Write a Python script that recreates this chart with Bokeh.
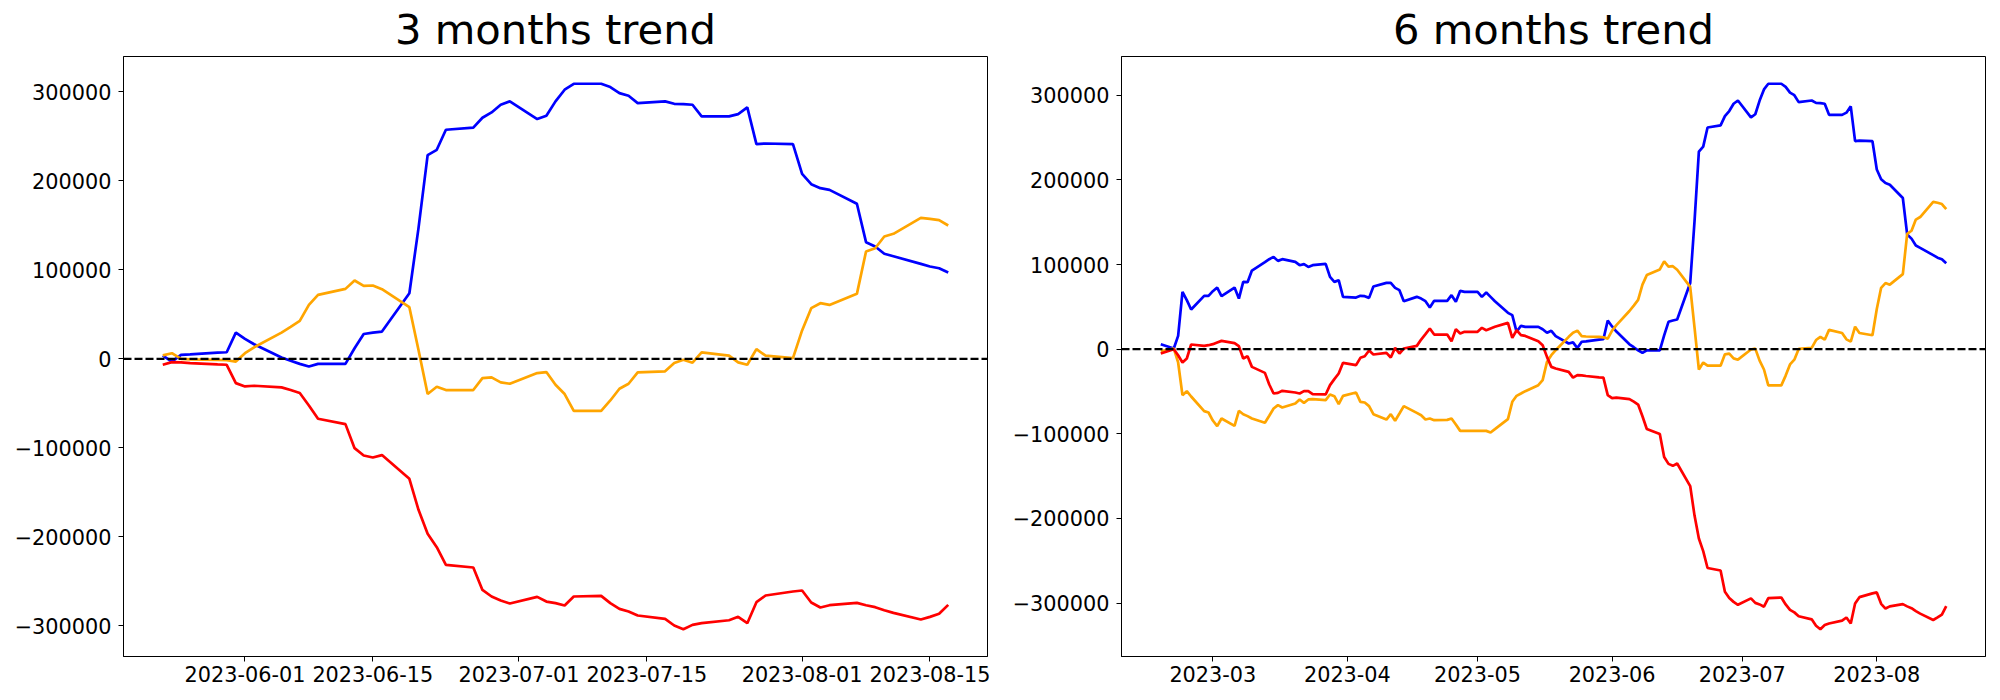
import pandas as pd
from bokeh.plotting import figure
from bokeh.models import (Range1d, FixedTicker, DatetimeTickFormatter, Span,
                          ColumnDataSource, BasicTickFormatter)
from bokeh.layouts import row
from bokeh.embed import file_html
from bokeh.resources import INLINE

FONT = "DejaVu Sans"

# ---------------- data: 3 months (business days 2023-05-23 .. 2023-08-17) ----------------
dates_3m = pd.bdate_range("2023-05-23", "2023-08-17")

blue_3m = [3700, -3000, 4500, 5000, 7000, 7500, 29600, 22500, 16500, 1500,
           -2000, -5600, -8600, -5600, -5600, 12000, 28000, 29600, 30700, 73800,
           147000, 229000, 235000, 257500, 260000, 271000, 277000, 285600, 289400, 269500,
           273200, 289400, 302500, 309200, 309200, 305500, 298700, 295700, 287500, 289400,
           286700, 286400, 285600, 272500, 272500, 275100, 282600, 241400, 242100, 241400,
           208000, 196400, 191900, 190000, 174300, 131200, 126300, 118100, 115400, 106800,
           103800, 101900, 97100]
orange_3m = [4000, 6400, 0, -500, -1000, -1500, -3000, 6400, 13000, 29600,
             36000, 42700, 60700, 72000, 78700, 88100, 82100, 82500, 78300, 58100,
             10000, -39500, -31300, -35000, -35000, -21600, -20800, -26400, -27900, -15900,
             -14800, -29000, -39500, -58300, -58300, -46700, -33500, -27900, -15200, -14000,
             -4700, -900, -4300, 7300, 3600, -3900, -6600, 11000, 3600, 900,
             32000, 57000, 62600, 60700, 73100, 120700, 124400, 137600, 140600, 158500,
             157400, 155900, 149900]
red_3m = [-6600, -3600, -3900, -4700, -6200, -6600, -27200, -30900, -30200, -32000,
          -35000, -38400, -52300, -67300, -73300, -100300, -108500, -110800, -108100, -134700,
          -169600, -196600, -211600, -231500, -234400, -259600, -267000, -271500, -274900, -267400,
          -272700, -274500, -277200, -267000, -266300, -274500, -280900, -283900, -288400, -292100,
          -299600, -303800, -298900, -297000, -293700, -289900, -297000, -273400, -265900, -261400,
          -260300, -273800, -279400, -276800, -274200, -276800, -279000, -282400, -285400, -292900,
          -289900, -286500, -276400]

# ---------------- data: 6 months (business days 2023-02-17 .. 2023-08-17) ----------------
dates_6m = pd.bdate_range("2023-02-17", "2023-08-17")

blue_6m = [5900, 800, 15700, 67700, 57900, 46900, 63000, 63000,
           68500, 72800, 62600, 72800, 59800, 79500, 79100, 92900, 102800, 106300,
           109000, 104300, 106300, 103100, 99200, 100400, 97200, 99200, 100800, 85400,
           79500, 81500, 61800,
           61000, 63000, 62600, 60600, 74000, 78300, 78300, 72400, 69700, 56700,
           61800, 59800, 56700, 49200, 57100, 57100, 63800, 55900, 68900, 67700,
           67700, 61800, 66900, 61800, 56700, 42900, 40200, 20500, 27600, 26400,
           26400, 23600, 19300, 21700, 15400, 6700,
           8000, 1300, 8800, 9300, 11300, 11800, 33900, 26800, 20800, 5800,
           2300, -1300, -4300, -1300, -1300, 16300, 32300, 33900, 35000, 78100,
           151300, 233300, 239300, 261800, 264300, 275300, 281300, 289900, 293700, 273800,
           277500, 293700, 306800, 313500, 313500, 309800, 303000, 300000, 291800, 293700,
           291000, 290700, 289900, 276800, 276800, 279400, 286900, 245700, 246400, 245700,
           212300, 200700, 196200, 194300, 178600, 135500, 130600, 122400, 119700, 111100,
           108100, 106200, 101400]
orange_6m = [-2400, 800, -15700, -54300, -49600, -55900, -73200, -74800,
             -84300, -90900, -81900, -90600, -72800, -76800, -79100, -81900, -87000, -78700,
             -70100, -66100, -68900, -64200, -59400, -63400, -59400, -59100, -60200, -53500,
             -55500, -65000, -55100,
             -51200, -62200, -63000, -67300, -76800, -83100, -76800, -84600, -76000, -67300,
             -75200, -78000, -83100, -81900, -83900, -83500, -81900, -89000, -96500, -96500,
             -96500, -96500, -96500, -98400, -94500, -82700, -62200, -55100, -52400, -49600,
             -42500, -36600, -15000, -7100, -1200, 14600,
             19500, 21900, 15500, 15000, 14500, 14000, 12500, 21900, 28500, 45100,
             51500, 58200, 76200, 87500, 94200, 103600, 97600, 98000, 93800, 73600,
             25500, -24000, -15800, -19500, -19500, -6100, -5300, -10900, -12400, -400,
             700, -13500, -24000, -42800, -42800, -31200, -18000, -12400, 300, 1500,
             10800, 14600, 11200, 22800, 19100, 11600, 8900, 26500, 19100, 16400,
             47500, 72500, 78100, 76200, 88600, 136200, 139900, 153100, 156100, 174000,
             172900, 171400, 165400]
red_6m = [-5100, 0, -7100, -15700, -11000, 5500, 3900, 4700,
          5900, 7900, 9800, 7100, 3500, -11000, -8300, -20900, -28000, -41700,
          -52400, -51600, -49200, -51200, -52400, -49600, -49600, -53100, -53500, -42500,
          -35400, -28700, -16100,
          -18900, -10200, -8300, -1600, -6300, -4300, -9800, 1600, -5100, 800,
          3900, 11400, 17700, 24400, 17300, 17300, 9400, 23600, 18500, 20500,
          20500, 25200, 22400, 24400, 26400, 31100, 13400, 22400, 16500, 15700,
          9400, 4700, -9100, -20900, -22800, -26800,
          -33600, -30600, -30900, -31700, -33200, -33600, -54200, -57900, -57200, -59000,
          -62000, -65400, -79300, -94300, -100300, -127300, -135500, -137800, -135100, -161700,
          -196600, -223600, -238600, -258500, -261400, -286600, -294000, -298500, -301900, -294400,
          -299700, -301500, -304200, -294000, -293300, -301500, -307900, -310900, -315400, -319100,
          -326600, -330800, -325900, -324000, -320700, -316900, -324000, -300400, -292900, -288400,
          -287300, -300800, -306400, -303800, -301200, -303800, -306000, -309400, -312400, -319900,
          -316900, -313500, -303400]

ticks_3m = ["2023-06-01", "2023-06-15", "2023-07-01", "2023-07-15", "2023-08-01", "2023-08-15"]
ticks_6m = ["2023-03-01", "2023-04-01", "2023-05-01", "2023-06-01", "2023-07-01", "2023-08-01"]
y_ticks = [-300000, -200000, -100000, 0, 100000, 200000, 300000]

SERIES_COLORS = ["blue", "orange", "red"]


def ms(ts):
    return pd.Timestamp(ts).value / 1e6


def make_plot(title, dates, series, xticks, xfmt, left, right):
    x0, x1 = ms(dates[0]), ms(dates[-1])
    xpad = 0.05 * (x1 - x0)
    allv = [v for s in series for v in s]
    ylo, yhi = min(allv), max(allv)
    ypad = 0.05 * (yhi - ylo)
    p = figure(x_axis_type="datetime", frame_width=864, frame_height=600,
               min_border_left=left, min_border_right=right,
               min_border_top=55, min_border_bottom=36,
               x_range=Range1d(x0 - xpad, x1 + xpad),
               y_range=Range1d(ylo - ypad, yhi + ypad),
               output_backend="svg", toolbar_location=None)
    p.grid.visible = False
    p.outline_line_color = "black"
    p.outline_line_width = 1
    p.outline_line_alpha = 1
    p.background_fill_color = "white"
    p.border_fill_color = "white"

    p.title.text = title
    p.title.align = "center"
    p.title.text_font = FONT
    p.title.text_font_size = "41.7px"
    p.title.text_font_style = "normal"
    p.title.text_color = "black"
    p.title.standoff = 5

    for s, c in zip(series, SERIES_COLORS):
        src = ColumnDataSource(dict(x=dates, y=s))
        p.line("x", "y", source=src, line_color=c, line_width=2.7)

    p.add_layout(Span(location=0, dimension="width", line_color="black",
                      line_dash="8 3", line_width=2.2))

    fmt = xfmt
    p.xaxis.ticker = FixedTicker(ticks=[ms(t) for t in xticks])
    p.xaxis.formatter = DatetimeTickFormatter(
        microseconds=fmt, milliseconds=fmt, seconds=fmt, minsec=fmt, minutes=fmt,
        hourmin=fmt, hours=fmt, days=fmt, months=fmt, years=fmt)
    p.yaxis.ticker = FixedTicker(ticks=y_ticks)
    p.yaxis.formatter = BasicTickFormatter(use_scientific=False)
    p.yaxis.major_label_overrides = {t: (str(t).replace("-", "\u2212")) for t in y_ticks}

    for ax in (p.xaxis[0], p.yaxis[0]):
        ax.axis_line_color = "black"
        ax.axis_line_width = 1
        ax.major_tick_line_color = "black"
        ax.major_tick_line_width = 1
        ax.major_tick_out = 5
        ax.major_tick_in = 0
        ax.minor_tick_out = 0
        ax.minor_tick_in = 0
        ax.major_label_text_font = FONT
        ax.major_label_text_font_size = "20.8px"
        ax.major_label_text_color = "black"
    p.xaxis.major_label_standoff = 4
    p.yaxis.major_label_standoff = 7
    return p


p1 = make_plot("3 months trend", dates_3m, [blue_3m, orange_3m, red_3m],
               ticks_3m, "%Y-%m-%d", 123, 20)
p2 = make_plot("6 months trend", dates_6m, [blue_6m, orange_6m, red_6m],
               ticks_6m, "%Y-%m", 114, 6)

layout = row(p1, p2)
open("out.html", "w").write(file_html(layout, INLINE))
